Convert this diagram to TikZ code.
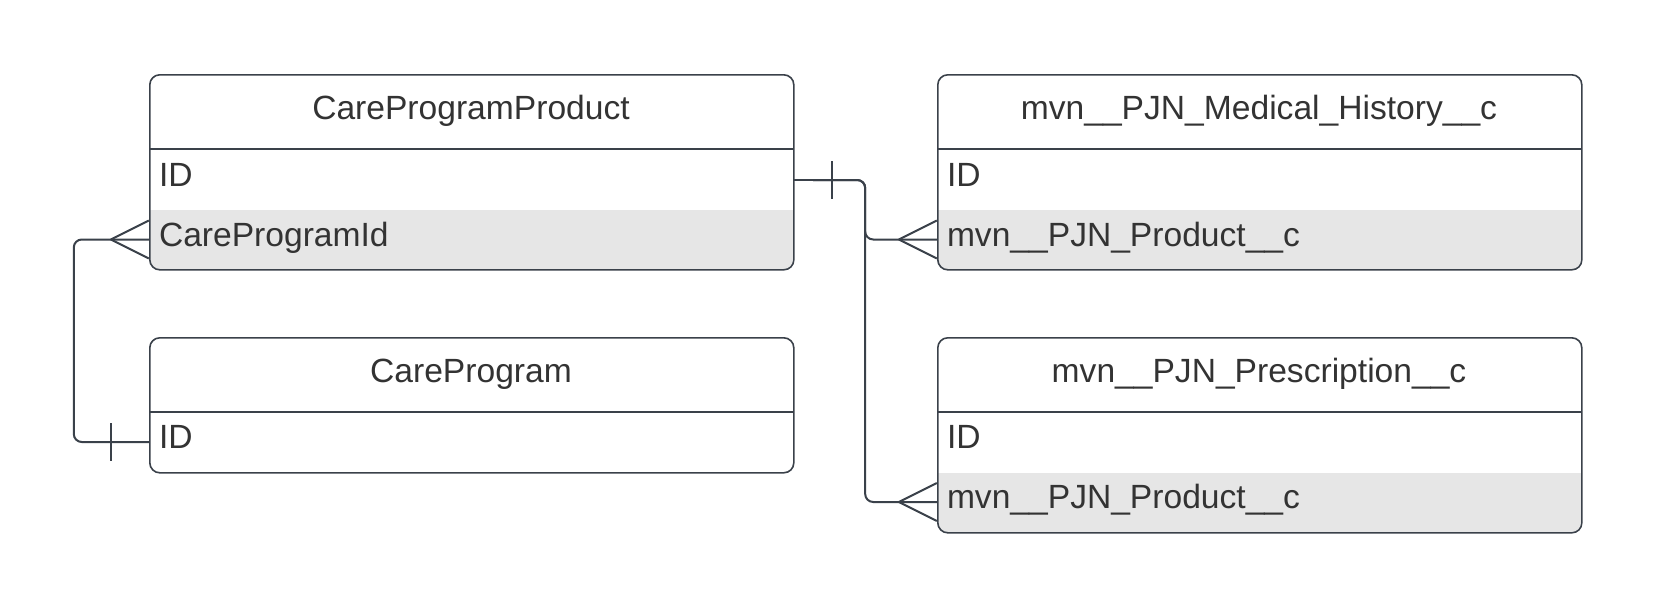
\documentclass[tikz,border=0pt]{standalone}
\usepackage{fontspec}
\setmainfont{Liberation Sans}
\usetikzlibrary{calc}
\definecolor{linec}{HTML}{3A414A}
\definecolor{txtc}{HTML}{333333}
\definecolor{rowf}{HTML}{E6E6E6}
\tikzset{
  entity/.style={draw=linec, line width=1.6pt, rounded corners=10pt, minimum width=644pt, anchor=north west, inner sep=0pt},
  title/.style={text=txtc, font=\fontsize{33.6}{40}\selectfont, inner sep=0pt},
  row/.style={text=txtc, font=\fontsize{33.6}{40}\selectfont, text width=624pt, align=left, inner xsep=10pt, inner ysep=0pt, minimum height=60pt},
  conn/.style={draw=linec, line width=2pt},
  divider/.style={draw=linec, line width=1.3pt},
}
\begin{document}
\begin{tikzpicture}[x=1pt,y=-1pt]
\useasboundingbox (0,0) rectangle (1658,608);
% ---------- CareProgramProduct
\begin{scope}
\clip[rounded corners=10pt] (149,74) rectangle (793,269);
\fill[rowf] (149,210) rectangle (793,269);
\end{scope}
\node[entity, minimum height=195pt] (cpp) at (149,74) {};
\draw[divider] (149,149) -- (793,149);
\node[title] (cppt) at (471,111) {CareProgramProduct};
\node[row] (cppid) at (471,180) {};
\node[row] (cppidt) at (471,175) {ID};
\node[row] (cppcid) at (471,239.5) {};
\node[row] (cppcidt) at (471,237.5) {CareProgramId};
% ---------- CareProgram
\node[entity, minimum height=135pt] (cp) at (149,337) {};
\draw[divider] (149,412) -- (793,412);
\node[title] (cpt) at (471,374) {CareProgram};
\node[row] (cpid) at (471,442) {};
\node[row] (cpidt) at (471,437) {ID};
% ---------- Medical History
\begin{scope}
\clip[rounded corners=10pt] (937,74) rectangle (1581,269);
\fill[rowf] (937,210) rectangle (1581,269);
\end{scope}
\node[entity, minimum height=195pt] (mh) at (937,74) {};
\draw[divider] (937,149) -- (1581,149);
\node[title] (mht) at (1259,111) {mvn\_\_PJN\_Medical\_History\_\_c};
\node[row] (mhidt) at (1259,175) {ID};
\node[row] (mhpid) at (1259,239.5) {};
\node[row] (mhpidt) at (1259,237.5) {mvn\_\_PJN\_Product\_\_c};
% ---------- Prescription
\begin{scope}
\clip[rounded corners=10pt] (937,337) rectangle (1581,532);
\fill[rowf] (937,473) rectangle (1581,532);
\end{scope}
\node[entity, minimum height=195pt] (pr) at (937,337) {};
\draw[divider] (937,412) -- (1581,412);
\node[title] (prt) at (1259,374) {mvn\_\_PJN\_Prescription\_\_c};
\node[row] (pridt) at (1259,437) {ID};
\node[row] (prpid) at (1259,502) {};
\node[row] (prpidt) at (1259,500) {mvn\_\_PJN\_Product\_\_c};
% ---------- connectors
\draw[conn, rounded corners=8pt] (cppcid.west) -- ++(-75,0) |- (cpid.west);
\draw[conn] ($(cppcid.west)+(-38,0)$) -- ($(cppcid.west)+(0,-19)$);
\draw[conn] ($(cppcid.west)+(-38,0)$) -- ($(cppcid.west)+(0,19)$);
\draw[conn] ($(cpid.west)+(-38,-19)$) -- ($(cpid.west)+(-38,19)$);
\draw[conn, line width=1.3pt] (cppid.east) -- ++(20,0);
\draw[conn, rounded corners=8pt] ($(cppid.east)+(20,0)$) -- ++(52,0) |- (mhpid.west);
\draw[conn, rounded corners=8pt] ($(cppid.east)+(20,0)$) -- ++(52,0) |- (prpid.west);
\draw[conn] ($(cppid.east)+(39,-19)$) -- ($(cppid.east)+(39,19)$);
\draw[conn] ($(mhpid.west)+(-38,0)$) -- ($(mhpid.west)+(0,-19)$);
\draw[conn] ($(mhpid.west)+(-38,0)$) -- ($(mhpid.west)+(0,19)$);
\draw[conn] ($(prpid.west)+(-38,0)$) -- ($(prpid.west)+(0,-19)$);
\draw[conn] ($(prpid.west)+(-38,0)$) -- ($(prpid.west)+(0,19)$);
\end{tikzpicture}
\end{document}
